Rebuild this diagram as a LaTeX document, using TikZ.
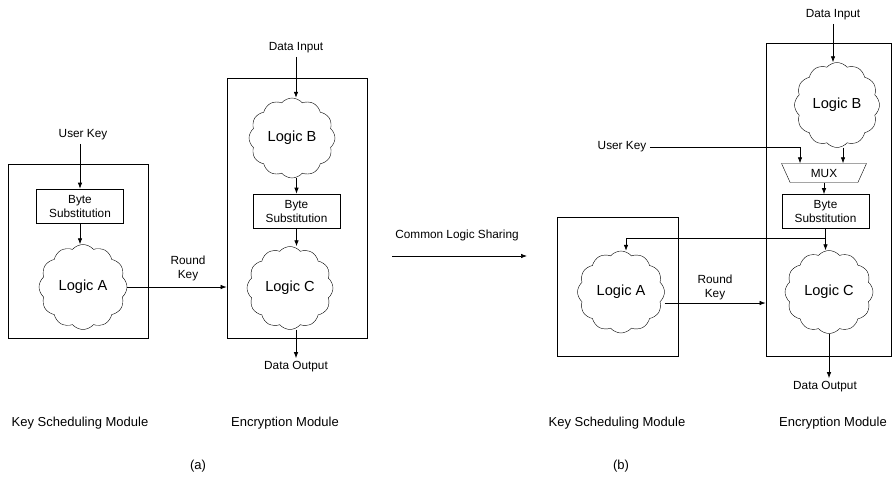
\documentclass[tikz,border=0pt]{standalone}
\usepackage{fontspec}
\setmainfont{Liberation Sans}
\usetikzlibrary{shapes.symbols,shapes.geometric,arrows.meta}

\tikzset{
  txt/.style={font=\fontsize{11.8}{14}\selectfont, align=center},
  caption/.style={font=\fontsize{13}{15}\selectfont},
  module/.style={draw, line width=0.8pt, inner sep=0pt},
  logic/.style={draw, cloud, cloud puffs=12, cloud puff arc=100, aspect=1,
    inner sep=0pt, font=\fontsize{14.6}{17}\selectfont},
  sbox/.style={draw, line width=0.7pt, txt, inner sep=0pt,
    minimum width=87pt, minimum height=34pt},
  mux/.style={draw, trapezium, trapezium stretches=true,
    trapezium left angle=68, trapezium right angle=68, shape border rotate=180,
    minimum width=85pt, minimum height=19pt, inner sep=0pt, txt},
  arr/.style={-{Latex[length=6pt,width=4.5pt]}, line width=0.7pt},
}

\begin{document}
\begin{tikzpicture}[x=1pt, y=-1pt]
  \useasboundingbox (0,0) rectangle (893,477);

  % (a) separate modules
  \node[module, minimum width=140pt, minimum height=174pt] (ksa) at (78,251) {};
  \node[module, minimum width=140pt, minimum height=260pt] (enca) at (297,208) {};

  \node[txt] (ua) at (83,135) {User Key};
  \node[sbox] (bsa) at (80,206) {Byte\\Substitution};
  \node[logic, minimum width=88pt, minimum height=85pt] (la) at (83,287) {Logic A};

  \node[txt] (dia) at (296,48) {Data Input};
  \node[logic, minimum width=86pt, minimum height=80pt] (lba) at (292,138) {Logic B};
  \node[sbox] (bsa2) at (296.5,211) {Byte\\Substitution};
  \node[logic, minimum width=86pt, minimum height=83pt] (lca) at (290,288) {Logic C};
  \node[txt] (doa) at (296,367) {Data Output};
  \node[txt] (rka) at (188,268) {Round\\Key};

  \draw[arr] (bsa.north |- ua.south) -- (bsa.north);
  \draw[arr] (bsa.south) -- (bsa.south |- la.north);
  \draw[arr] (la.east) -- (la.east -| enca.west);
  \draw[arr] (dia) -- (dia |- lba.north);
  \draw[arr] (bsa2.north |- lba.south) -- (bsa2.north);
  \draw[arr] (bsa2.south) -- (bsa2.south |- lca.north);
  \draw[arr] (doa.north |- lca.south) -- (doa);

  \node[caption] (ksacap) at (80,423) {Key Scheduling Module};
  \node[caption] (encacap) at (285,423) {Encryption Module};
  \node[caption] (capa) at (198,466) {(a)};

  % common logic sharing
  \node[txt] (cls) at (457,235) {Common Logic Sharing};
  \coordinate (clsl) at (392,256);
  \coordinate (clsr) at (527,256);
  \draw[arr] (clsl) -- (clsr);

  % (b) shared logic
  \node[module, minimum width=121pt, minimum height=139pt] (ksb) at (617.5,286.5) {};
  \node[module, minimum width=125pt, minimum height=313pt] (encb) at (828.5,199.5) {};

  \node[txt] (dib) at (833,15) {Data Input};
  \node[logic, minimum width=85pt, minimum height=85pt] (lbb) at (837,105) {Logic B};
  \node[txt] (ub) at (622,147) {User Key};
  \node[mux] (mx) at (824,173) {MUX};
  \node[sbox] (bsb) at (825.5,211.5) {Byte\\Substitution};
  \node[logic, minimum width=87pt, minimum height=82pt] (lab) at (621,292) {Logic A};
  \node[logic, minimum width=88pt, minimum height=83pt] (lcb) at (829,292) {Logic C};
  \node[txt] (rkb) at (715,287) {Round\\Key};
  \node[txt] (dob) at (825,387) {Data Output};

  \draw[arr] (dib) -- (dib |- lbb.north);
  \draw[arr] (ub.east) -| ([xshift=-24pt]mx.north);
  \draw[arr] ([xshift=19pt]mx.north |- lbb.south) -- ([xshift=19pt]mx.north);
  \draw[arr] (mx.south) -- (mx.south |- bsb.north);
  \coordinate (split) at ([yshift=-9pt]bsb.south);
  \draw[line width=0.7pt] (bsb.south) -- (split);
  \draw[arr] (split) -| ([xshift=5pt]lab.north);
  \draw[arr] (split) -- (split |- lcb.north);
  \draw[arr] ([yshift=-11pt]lab.east) -- ([yshift=-11pt]lab.east -| encb.west);
  \draw[arr] (lcb.south) -- (lcb.south |- dob.north);

  \node[caption] (ksbcap) at (617,423) {Key Scheduling Module};
  \node[caption] (encbcap) at (833,423) {Encryption Module};
  \node[caption] (capb) at (621,466) {(b)};
\end{tikzpicture}
\end{document}
